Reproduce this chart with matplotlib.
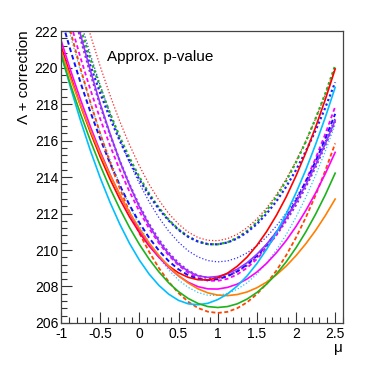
import matplotlib
matplotlib.use('Agg')
import matplotlib.pyplot as plt
from matplotlib.ticker import MultipleLocator, FuncFormatter

plt.rcParams['font.family'] = ['Liberation Sans', 'DejaVu Sans']

mu = [-1.0, -0.875, -0.75, -0.625, -0.5, -0.375, -0.25, -0.125, 0.0, 0.125, 0.25, 0.375,
      0.5, 0.625, 0.75, 0.875, 1.0, 1.125, 1.25, 1.375, 1.5, 1.625, 1.75, 1.875,
      2.0, 2.125, 2.25, 2.375, 2.5]

# Lambda + correction, one list per curve
red_dot = [227.80, 225.65, 223.65, 221.79, 220.07, 218.49, 217.05, 215.76, 214.61, 213.60, 212.73, 212.00,
           211.42, 210.98, 210.68, 210.53, 210.51, 210.62, 210.86, 211.22, 211.70, 212.30, 213.03, 213.89,
           214.87, 215.97, 217.19, 218.54, 220.01]
green_dash = [225.89, 223.96, 222.15, 220.47, 218.92, 217.50, 216.20, 215.04, 214.00, 213.09, 212.31, 211.66,
              211.13, 210.73, 210.46, 210.32, 210.31, 210.42, 210.67, 211.04, 211.53, 212.16, 212.91, 213.79,
              214.80, 215.93, 217.20, 218.58, 220.10]
blue_dot_thick = [225.32, 223.46, 221.72, 220.10, 218.60, 217.23, 215.99, 214.86, 213.86, 212.99, 212.24, 211.61,
                  211.10, 210.72, 210.46, 210.32, 210.31, 210.41, 210.63, 210.97, 211.42, 211.99, 212.67, 213.47,
                  214.38, 215.41, 216.55, 217.81, 219.19]
blue_dot = [226.55, 224.47, 222.52, 220.70, 219.03, 217.48, 216.07, 214.79, 213.65, 212.64, 211.77, 211.03,
            210.43, 209.95, 209.62, 209.42, 209.35, 209.40, 209.57, 209.84, 210.23, 210.72, 211.32, 212.03,
            212.85, 213.78, 214.82, 215.97, 217.23]
violet_solid = [226.17, 223.90, 221.78, 219.83, 218.02, 216.38, 214.88, 213.55, 212.37, 211.35, 210.48, 209.78,
                209.22, 208.83, 208.58, 208.50, 208.55, 208.70, 208.95, 209.30, 209.76, 210.32, 210.98, 211.75,
                212.61, 213.58, 214.66, 215.83, 217.11]
violet_dot = [225.78, 223.59, 221.56, 219.67, 217.93, 216.33, 214.88, 213.58, 212.43, 211.42, 210.56, 209.85,
              209.28, 208.86, 208.59, 208.46, 208.47, 208.59, 208.83, 209.16, 209.61, 210.16, 210.83, 211.60,
              212.47, 213.46, 214.55, 215.75, 217.06]
blue_dash = [222.73, 220.89, 219.16, 217.57, 216.10, 214.76, 213.55, 212.46, 211.50, 210.67, 209.97, 209.39,
             208.94, 208.61, 208.42, 208.35, 208.40, 208.56, 208.83, 209.20, 209.68, 210.28, 210.98, 211.79,
             212.70, 213.73, 214.86, 216.11, 217.46]
red_solid = [221.20, 219.50, 217.91, 216.45, 215.11, 213.89, 212.79, 211.81, 210.96, 210.22, 209.61, 209.12,
             208.75, 208.50, 208.37, 208.36, 208.48, 208.73, 209.11, 209.61, 210.25, 211.01, 211.90, 212.91,
             214.06, 215.33, 216.73, 218.26, 219.92]
magenta_dash = [224.38, 222.39, 220.52, 218.79, 217.19, 215.73, 214.39, 213.19, 212.12, 211.18, 210.37, 209.70,
                209.16, 208.75, 208.47, 208.32, 208.31, 208.42, 208.66, 209.02, 209.50, 210.11, 210.84, 211.70,
                212.68, 213.79, 215.02, 216.37, 217.85]
magenta_solid = [221.50, 219.81, 218.23, 216.76, 215.40, 214.15, 213.02, 212.00, 211.09, 210.29, 209.61, 209.04,
                 208.58, 208.23, 207.99, 207.87, 207.86, 207.95, 208.13, 208.41, 208.79, 209.27, 209.85, 210.52,
                 211.29, 212.16, 213.12, 214.19, 215.35]
cyan_dot = [223.66, 221.66, 219.78, 218.04, 216.44, 214.96, 213.62, 212.41, 211.34, 210.39, 209.58, 208.91,
            208.36, 207.95, 207.67, 207.52, 207.51, 207.62, 207.85, 208.20, 208.68, 209.28, 210.00, 210.84,
            211.80, 212.88, 214.09, 215.42, 216.87]
orange_solid = [220.91, 219.36, 217.90, 216.55, 215.28, 214.11, 213.04, 212.06, 211.18, 210.39, 209.70, 209.10,
                208.59, 208.19, 207.87, 207.65, 207.53, 207.50, 207.56, 207.70, 207.93, 208.24, 208.64, 209.12,
                209.69, 210.34, 211.07, 211.89, 212.79]
cyan_solid = [220.77, 218.85, 217.08, 215.45, 213.96, 212.62, 211.42, 210.36, 209.45, 208.68, 208.06, 207.58,
              207.24, 207.05, 207.00, 207.08, 207.28, 207.59, 208.03, 208.58, 209.25, 210.04, 210.95, 211.98,
              213.13, 214.39, 215.78, 217.28, 218.91]
green_solid = [220.69, 219.01, 217.45, 215.99, 214.64, 213.39, 212.26, 211.23, 210.31, 209.50, 208.80, 208.20,
               207.72, 207.34, 207.07, 206.90, 206.85, 206.90, 207.05, 207.31, 207.67, 208.13, 208.69, 209.35,
               210.12, 210.99, 211.96, 213.03, 214.21]
orange_dash = [224.03, 221.91, 219.93, 218.09, 216.38, 214.81, 213.38, 212.08, 210.92, 209.90, 209.01, 208.26,
               207.64, 207.16, 206.82, 206.62, 206.55, 206.61, 206.81, 207.13, 207.58, 208.16, 208.87, 209.71,
               210.68, 211.78, 213.00, 214.36, 215.84]

# (values, colour, linewidth, dash pattern or None for solid)
curves = [
    (red_dot, '#ff2020', 0.9, (1, 1.6)),
    (blue_dot, '#3030ff', 0.9, (1, 1.6)),
    (cyan_dot, '#20c8ff', 0.9, (1, 1.6)),
    (green_dash, '#20b020', 1.6, (1.2, 1.2)),
    (blue_dot_thick, '#2020ff', 1.6, (1.0, 1.2)),
    (violet_dot, '#8a2be2', 1.6, (1.0, 1.2)),
    (magenta_dash, '#ff00ff', 1.3, (2.2, 1.6)),
    (blue_dash, '#1010ff', 1.4, (2.4, 1.6)),
    (orange_dash, '#ff4500', 1.3, (2.2, 1.4)),
    (violet_solid, '#9933ff', 1.2, None),
    (red_solid, '#ff0000', 1.2, None),
    (magenta_solid, '#ff00ff', 1.2, None),
    (orange_solid, '#ff7f00', 1.2, None),
    (cyan_solid, '#00bfff', 1.2, None),
    (green_solid, '#1cb31c', 1.2, None),
]

fig = plt.figure(figsize=(3.82, 3.67), dpi=100)
ax = fig.add_axes([0.1597, 0.1199, 0.7382, 0.7956])

for vals, col, lw, dash in curves:
    line, = ax.plot(mu, vals, color=col, lw=lw, solid_joinstyle='round')
    if dash is not None:
        line.set_dashes(dash)

ax.set_xlim(-1, 2.6)
ax.set_ylim(206, 222)
ax.xaxis.set_major_locator(MultipleLocator(0.5))
ax.xaxis.set_minor_locator(MultipleLocator(0.1))
ax.yaxis.set_major_locator(MultipleLocator(2))
ax.yaxis.set_minor_locator(MultipleLocator(0.4))
ax.xaxis.set_major_formatter(FuncFormatter(lambda v, p: '%g' % v))
ax.tick_params(which='both', direction='in', top=False, right=False, width=0.8,
               colors='#333333', labelcolor='black', labelsize=10)
ax.tick_params(which='major', length=8)
ax.tick_params(which='minor', length=4)
ax.tick_params(axis='x', which='major', pad=3)
ax.tick_params(axis='y', which='major', pad=2)
for s in ax.spines.values():
    s.set_color('#444444')
    s.set_linewidth(0.9)

fig.text(24 / 382, 1 - 30 / 367, '\u039b + correction', rotation=90, ha='center', va='top', fontsize=11)
fig.text(338 / 382, 1 - 348 / 367, '\u03bc', ha='center', va='center', fontsize=11)
fig.text(107 / 382, 1 - 57 / 367, 'Approx. p-value', ha='left', va='center', fontsize=11)

fig.savefig('out.png', dpi=100)
